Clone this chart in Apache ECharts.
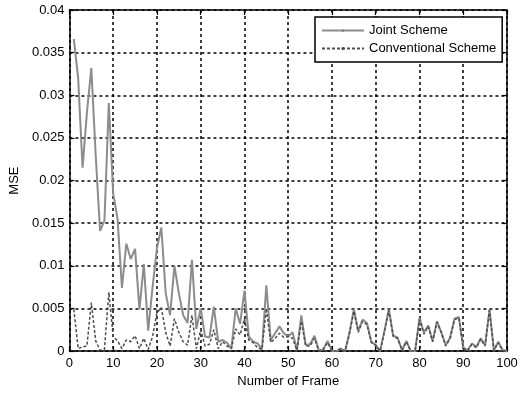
<!DOCTYPE html>
<html>
<head>
<meta charset="utf-8">
<script src="https://cdn.jsdelivr.net/npm/echarts@6/dist/echarts.min.js"></script>
<style>
  html, body { margin: 0; padding: 0; background: #fff; }
  #chart { width: 526px; height: 393px; }
</style>
</head>
<body>
<div id="chart"></div>
<script>
// 帧序号 1..100
const frames = Array.from({ length: 100 }, (_, i) => i + 1)

// Joint Scheme 的 MSE
const jointMse = [
  0.0366, 0.0320, 0.0215, 0.0280, 0.0332, 0.0230, 0.0141, 0.0153, 0.0291, 0.0185,
  0.0155, 0.0074, 0.0126, 0.0108, 0.0120, 0.0049, 0.0102, 0.0024, 0.0075, 0.0121,
  0.0145, 0.0068, 0.0042, 0.0100, 0.0068, 0.0042, 0.0033, 0.0107, 0.0026, 0.0050,
  0.0017, 0.0016, 0.0052, 0.0011, 0.0013, 0.0010, 0.0003, 0.0050, 0.0032, 0.0071,
  0.0017, 0.0011, 0.0009, 0.0002, 0.0077, 0.0013, 0.0021, 0.0029, 0.0021, 0.0017,
  0.0022, 0.0001, 0.0042, 0.0007, 0.0008, 0.0018, 0.0001, 0.0002, 0.0012, 0.0000,
  0.0000, 0.0003, 0.0000, 0.0022, 0.0049, 0.0024, 0.0037, 0.0033, 0.0011, 0.0007,
  0.0000, 0.0024, 0.0049, 0.0018, 0.0016, 0.0001, 0.0012, 0.0000, 0.0000, 0.0039,
  0.0022, 0.0030, 0.0012, 0.0035, 0.0022, 0.0007, 0.0016, 0.0038, 0.0040, 0.0004,
  0.0001, 0.0009, 0.0005, 0.0015, 0.0007, 0.0049, 0.0001, 0.0011, 0.0001, 0.0000
]

// Conventional Scheme 的 MSE
const convMse = [
  0.0049, 0.0003, 0.0005, 0.0006, 0.0057, 0.0012, 0.0001, 0.0002, 0.0069, 0.0017,
  0.0012, 0.0003, 0.0013, 0.0011, 0.0018, 0.0003, 0.0015, 0.0002, 0.0017, 0.0045,
  0.0051, 0.0022, 0.0006, 0.0038, 0.0022, 0.0011, 0.0007, 0.0042, 0.0003, 0.0025,
  0.0006, 0.0008, 0.0025, 0.0003, 0.0011, 0.0006, 0.0003, 0.0026, 0.0019, 0.0038,
  0.0013, 0.0010, 0.0004, 0.0002, 0.0050, 0.0010, 0.0015, 0.0021, 0.0016, 0.0017,
  0.0015, 0.0001, 0.0035, 0.0006, 0.0006, 0.0015, 0.0000, 0.0002, 0.0010, 0.0000,
  0.0000, 0.0003, 0.0000, 0.0020, 0.0047, 0.0022, 0.0035, 0.0031, 0.0010, 0.0007,
  0.0000, 0.0023, 0.0048, 0.0017, 0.0015, 0.0001, 0.0011, 0.0000, 0.0000, 0.0037,
  0.0020, 0.0029, 0.0011, 0.0034, 0.0021, 0.0006, 0.0015, 0.0037, 0.0039, 0.0003,
  0.0001, 0.0008, 0.0004, 0.0014, 0.0006, 0.0048, 0.0001, 0.0010, 0.0001, 0.0000
]

const seriesNames = ['Joint Scheme', 'Conventional Scheme']
const xTicks = { min: 0, max: 100, interval: 10 }
const yTicks = { min: 0, max: 0.04, interval: 0.005 }

const font = 'Liberation Sans, Arial, sans-serif'
const chart = echarts.init(document.getElementById('chart'))

// 坐标轴公共样式（Matlab 风格：刻度朝内，四边框）
const tickStyle = { show: true, inside: true, length: 5, lineStyle: { color: '#000', width: 1.2 } }
const lineStyle = { show: true, onZero: false, lineStyle: { color: '#000', width: 1.5 } }
const gridLine = { show: true, lineStyle: { color: '#000', width: 1.5, type: [3, 3] } }

const options = {
  animation: false,
  backgroundColor: '#fff',
  grid: { left: 68, top: 10, width: 439, height: 346, containLabel: false },
  legend: {
    data: seriesNames,
    orient: 'vertical',
    left: 315,
    top: 17,
    padding: [7, 6, 7, 6],
    itemGap: 5,
    itemWidth: 42,
    itemHeight: 4,
    backgroundColor: '#fff',
    borderColor: '#000',
    borderWidth: 1.5,
    borderRadius: 0,
    textStyle: { fontFamily: font, fontSize: 13, color: '#000', padding: [0, 0, 0, 0] }
  },
  xAxis: [
    {
      type: 'value', position: 'bottom', ...xTicks,
      name: 'Number of Frame', nameLocation: 'middle', nameGap: 22,
      nameTextStyle: { fontFamily: font, fontSize: 13, color: '#000' },
      axisLine: lineStyle, axisTick: tickStyle,
      axisLabel: { fontFamily: font, fontSize: 13, color: '#000', margin: 6 },
      splitLine: gridLine
    },
    {
      type: 'value', position: 'top', ...xTicks,
      axisLine: lineStyle, axisTick: tickStyle,
      axisLabel: { show: false }, splitLine: { show: false }
    }
  ],
  yAxis: [
    {
      type: 'value', position: 'left', ...yTicks,
      name: 'MSE', nameLocation: 'middle', nameGap: 43, nameRotate: 90,
      nameTextStyle: { fontFamily: font, fontSize: 13, color: '#000' },
      axisLine: lineStyle, axisTick: tickStyle,
      axisLabel: { fontFamily: font, fontSize: 13, color: '#000', margin: 5 },
      splitLine: gridLine
    },
    {
      type: 'value', position: 'right', ...yTicks,
      axisLine: lineStyle, axisTick: tickStyle,
      axisLabel: { show: false }, splitLine: { show: false }
    }
  ],
  series: [
    {
      name: seriesNames[0],
      type: 'line',
      data: frames.map((f, i) => [f, jointMse[i]]),
      symbol: 'none',
      lineStyle: { color: '#8c8c8c', width: 2 },
      itemStyle: { color: '#8c8c8c' },
      z: 2
    },
    {
      name: seriesNames[1],
      type: 'line',
      data: frames.map((f, i) => [f, convMse[i]]),
      symbol: 'none',
      lineStyle: { color: '#4d4d4d', width: 1.5, type: [3, 2] },
      itemStyle: { color: '#4d4d4d' },
      z: 3
    }
  ]
}
chart.setOption(options)
</script>
</body>
</html>
